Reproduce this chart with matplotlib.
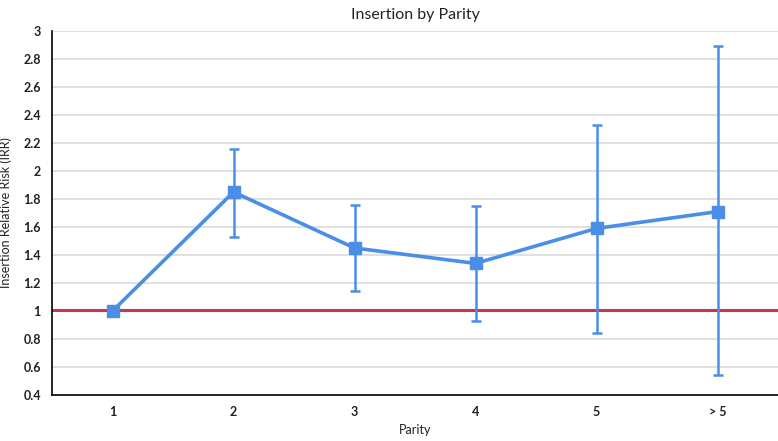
import numpy as np
import matplotlib.pyplot as plt

plt.rcParams['font.family'] = ['Lato', 'DejaVu Sans']

# dane
parity = ['1', '2', '3', '4', '5', '> 5']
irr = [1.0, 1.85, 1.45, 1.34, 1.59, 1.71]
ci_low = [1.0, 1.53, 1.14, 0.93, 0.84, 0.54]
ci_high = [1.0, 2.16, 1.76, 1.75, 2.33, 2.89]
ref_line = 1.01

y_ticks = np.arange(0.4, 3.01, 0.2)

x = np.arange(1, len(parity) + 1)
irr_arr = np.array(irr)
err = [irr_arr - np.array(ci_low), np.array(ci_high) - irr_arr]

fig = plt.figure(figsize=(7.78, 4.41), dpi=100)
ax = fig.add_axes([52 / 778, 46 / 441, 726 / 778, 364 / 441])

ax.axhline(ref_line, color='#c0394f', lw=2.2, zorder=2)
ax.errorbar(x, irr, yerr=err, color='#4a8ee8', lw=2.6, marker='s', ms=9,
            elinewidth=1.8, capsize=3.5, capthick=1.8, zorder=3)

ax.set_xlim(0.5, len(parity) + 0.5)
ax.set_ylim(0.4, 3.0)
ax.set_xticks(x)
ax.set_xticklabels(parity)
ax.set_yticks(y_ticks)
ax.set_yticklabels(['%g' % round(v, 1) for v in y_ticks])
ax.yaxis.grid(True, color='#d9dcdc', lw=1.2, zorder=0)
ax.set_axisbelow(True)

for s in ['top', 'right']:
    ax.spines[s].set_visible(False)
ax.spines['left'].set_linewidth(1.2)
ax.spines['bottom'].set_linewidth(1.2)
ax.tick_params(length=0, labelsize=9, pad=8)
for lab in ax.get_xticklabels() + ax.get_yticklabels():
    lab.set_fontweight('bold')
    lab.set_color('#222222')
ax.tick_params(axis='x', pad=8)

ax.set_title('Insertion by Parity', fontsize=11.5, pad=9, color='#222222')
ax.set_xlabel('Parity', fontsize=9, labelpad=4, color='#222222')
ax.set_ylabel('Insertion Relative Risk (IRR)', fontsize=9, labelpad=8, color='#222222')

plt.savefig('out.png', dpi=100)
